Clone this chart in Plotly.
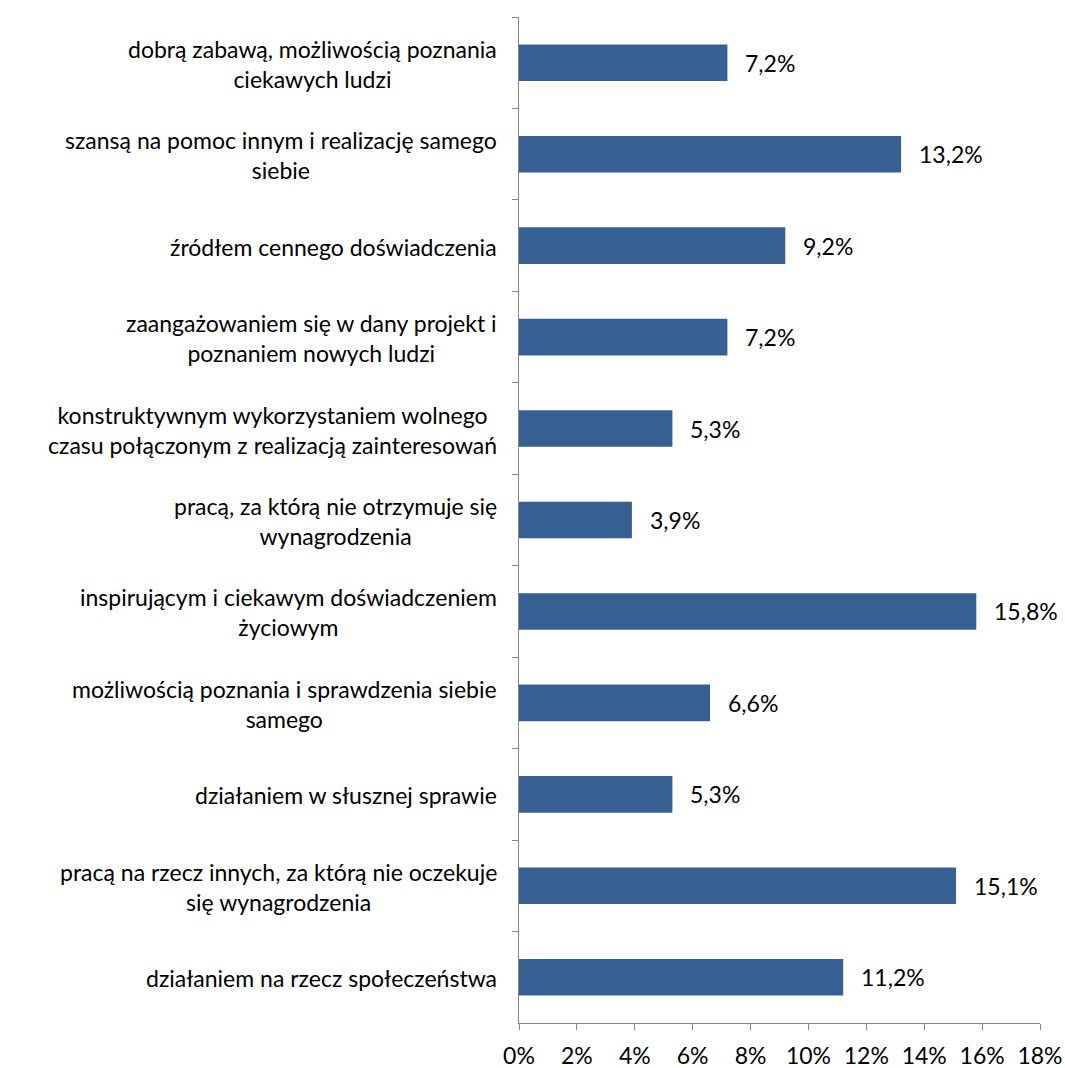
import plotly.graph_objects as go

# Survey answers: "Wolontariat jest dla mnie ..." (share of responses, %)
categories = [
    "dobrą zabawą, możliwością poznania<br>ciekawych ludzi",
    "szansą na pomoc innym i realizację samego<br>siebie",
    "źródłem cennego doświadczenia",
    "zaangażowaniem się w dany projekt i<br>poznaniem nowych ludzi",
    "konstruktywnym wykorzystaniem wolnego<br>czasu połączonym z realizacją zainteresowań",
    "pracą, za którą nie otrzymuje się<br>wynagrodzenia",
    "inspirującym i ciekawym doświadczeniem<br>życiowym",
    "możliwością poznania i sprawdzenia siebie<br>samego",
    "działaniem w słusznej sprawie",
    "pracą na rzecz innych, za którą nie oczekuje<br>się wynagrodzenia",
    "działaniem na rzecz społeczeństwa",
]
values = [7.2, 13.2, 9.2, 7.2, 5.3, 3.9, 15.8, 6.6, 5.3, 15.1, 11.2]
x_ticks = [0, 2, 4, 6, 8, 10, 12, 14, 16, 18]
x_tick_labels = [f"{t}%" for t in x_ticks]

FONT = "Lato"
FONT_SIZE = 23
BAR_COLOR = "#376092"
AXIS_COLOR = "#868686"

ids = [f"c{i}" for i in range(len(categories))]

fig = go.Figure(
    go.Bar(
        x=values,
        y=ids,
        orientation="h",
        marker=dict(color=BAR_COLOR, line=dict(width=0)),
        hoverinfo="skip",
    )
)

annotations = []
# category labels, centred lines, right-aligned block next to the axis
for cid, label in zip(ids, categories):
    annotations.append(dict(
        x=0, xref="paper", y=cid, yref="y",
        text=label, showarrow=False,
        xanchor="right", yanchor="middle", align="center",
        xshift=-20, yshift=-1,
        font=dict(family=FONT, size=FONT_SIZE, color="#000000"),
    ))
# value labels to the right of each bar
for cid, v in zip(ids, values):
    annotations.append(dict(
        x=v, xref="x", y=cid, yref="y",
        text=f"{v:.1f}%".replace(".", ","), showarrow=False,
        xanchor="left", yanchor="middle",
        xshift=16,
        font=dict(family=FONT, size=FONT_SIZE, color="#000000"),
    ))

fig.update_layout(
    width=1065, height=1068,
    margin=dict(l=519, r=25, t=17, b=45),
    paper_bgcolor="white", plot_bgcolor="white",
    bargap=0.6,
    showlegend=False,
    annotations=annotations,
    font=dict(family=FONT, size=FONT_SIZE, color="#000000"),
    xaxis=dict(
        range=[0, 18],
        tickvals=x_ticks, ticktext=x_tick_labels,
        showgrid=False, zeroline=False,
        showline=True, linecolor=AXIS_COLOR, linewidth=1,
        ticks="outside", ticklen=6, tickcolor=AXIS_COLOR,
        ticklabelstandoff=6,
        tickfont=dict(family=FONT, size=FONT_SIZE, color="#000000"),
        automargin=False,
        fixedrange=True,
    ),
    yaxis=dict(
        categoryorder="array", categoryarray=ids,
        autorange="reversed",
        showticklabels=False,
        showgrid=False, zeroline=False,
        showline=True, linecolor=AXIS_COLOR, linewidth=1,
        ticks="outside", ticklen=6, tickcolor=AXIS_COLOR,
        tickson="boundaries",
        automargin=False,
        fixedrange=True,
    ),
)

fig.write_html("out.html")
